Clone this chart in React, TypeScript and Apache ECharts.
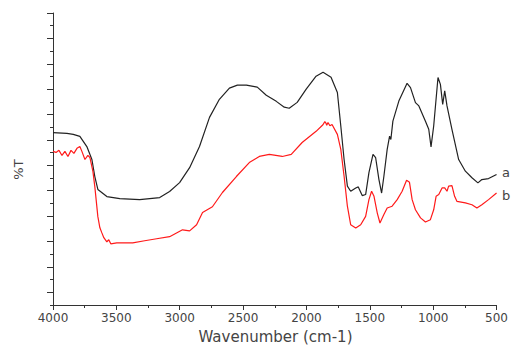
import React, { useEffect, useRef } from "react";
import * as echarts from "echarts";

const xTicks = [4000, 3500, 3000, 2500, 2000, 1500, 1000, 500];
const yMajorTicks = [115, 105, 95, 85, 75, 65, 55, 45, 35, 25, 15, 5];
const yMinorTicks = [110, 100, 90, 80, 70, 60, 50, 40, 30, 20, 10, 0];

const waveA = [4000, 3890, 3840, 3788, 3733, 3693, 3670, 3646, 3575, 3473, 3316, 3158, 3080, 3001, 2922, 2844, 2765, 2687, 2608, 2545, 2474, 2388, 2317, 2238, 2175, 2136, 2073, 2002, 1924, 1869, 1806, 1756, 1729, 1703, 1677, 1651, 1611, 1591, 1560, 1533, 1507, 1475, 1454, 1428, 1407, 1389, 1363, 1344, 1334, 1318, 1271, 1206, 1179, 1140, 1113, 1061, 1035, 1017, 996, 962, 943, 925, 909, 891, 852, 799, 746, 694, 647, 616, 563, 500];
const transA = [67.9, 67.6, 67.2, 66.4, 62.4, 57.3, 50.6, 45.5, 42.7, 41.9, 41.5, 42.3, 44.7, 48.2, 54.1, 62.4, 73.9, 81.0, 85.4, 86.6, 86.6, 85.8, 82.6, 80.2, 77.9, 77.5, 79.8, 85.0, 90.1, 91.7, 89.7, 83.7, 70.5, 57.3, 46.8, 44.8, 46.1, 46.5, 43.1, 43.5, 52.1, 59.3, 58.0, 49.4, 44.1, 50.7, 61.3, 66.5, 65.2, 72.4, 80.3, 87.3, 85.6, 79.7, 78.4, 72.4, 69.2, 62.3, 70.5, 89.6, 86.9, 79.0, 84.3, 78.4, 69.2, 57.3, 52.7, 50.1, 48.1, 49.4, 49.8, 51.4];

const waveB = [4000, 3976, 3953, 3929, 3906, 3882, 3858, 3835, 3811, 3788, 3772, 3748, 3725, 3709, 3685, 3670, 3646, 3630, 3615, 3599, 3575, 3560, 3544, 3497, 3434, 3371, 3277, 3182, 3080, 2978, 2922, 2867, 2820, 2742, 2663, 2553, 2451, 2372, 2293, 2191, 2120, 2034, 1924, 1870, 1855, 1845, 1840, 1830, 1815, 1798, 1756, 1729, 1703, 1677, 1651, 1611, 1572, 1533, 1507, 1486, 1467, 1441, 1420, 1389, 1363, 1324, 1284, 1245, 1210, 1187, 1166, 1140, 1100, 1061, 1022, 996, 977, 956, 930, 909, 891, 878, 852, 831, 812, 746, 694, 655, 616, 563, 500];
const transB = [60.5, 60.1, 60.9, 58.9, 60.5, 58.5, 60.9, 59.7, 61.7, 62.4, 60.5, 57.3, 58.9, 58.1, 52.6, 46.6, 34.8, 30.4, 28.5, 26.5, 24.9, 25.7, 24.1, 24.5, 24.5, 24.5, 25.3, 26.1, 26.9, 29.6, 29.2, 31.6, 36.4, 38.7, 44.3, 50.6, 56.1, 58.5, 59.3, 58.5, 59.3, 64.0, 68.4, 71.0, 72.2, 71.5, 70.8, 71.9, 70.6, 71.1, 67.2, 61.3, 50.7, 38.9, 31.6, 30.3, 31.6, 34.9, 41.5, 44.8, 42.8, 36.2, 32.3, 35.6, 38.2, 38.9, 41.5, 44.8, 49.1, 48.3, 41.5, 37.5, 34.3, 32.7, 33.6, 37.5, 42.8, 43.5, 46.1, 46.1, 44.8, 46.8, 47.0, 42.8, 40.8, 40.2, 39.5, 38.2, 39.5, 41.5, 44.1];

const seriesNames = ["a", "b"];
const xName = "Wavenumber (cm-1)";
const yName = "%T";

export default function App() {
  const ref = useRef<HTMLDivElement>(null);
  useEffect(() => {
    if (!ref.current) return;
    const chart = echarts.init(ref.current, null, { renderer: "svg" });
    const axisColor = "#333";
    const textColor = "#444";
    const font = "DejaVu Sans";
    chart.setOption({
      animation: false,
      backgroundColor: "#fff",
      grid: { left: 53, right: 13, top: 13, bottom: 43 },
      xAxis: {
        type: "value",
        inverse: true,
        min: 500,
        max: 4000,
        interval: 500,
        axisLine: { show: true, lineStyle: { color: axisColor, width: 1 } },
        axisTick: { show: true, length: 5, inside: false, lineStyle: { color: axisColor } },
        minorTick: { show: true, splitNumber: 2, length: 3, lineStyle: { color: axisColor } },
        axisLabel: {
          show: true,
          color: textColor,
          fontFamily: font,
          fontSize: 12,
          margin: 7,
          showMinLabel: true,
          showMaxLabel: true,
          customValues: xTicks,
          formatter: (v: number) => String(v),
        },
        splitLine: { show: false },
        minorSplitLine: { show: false },
      },
      yAxis: [
        {
          type: "value",
          min: 0,
          max: 115,
          position: "left",
          axisLine: { show: true, onZero: false, lineStyle: { color: axisColor, width: 1 } },
          axisTick: { show: true, length: 6, customValues: yMajorTicks, lineStyle: { color: axisColor } },
          axisLabel: { show: false },
          splitLine: { show: false },
        },
        {
          type: "value",
          min: 0,
          max: 115,
          position: "left",
          offset: 0,
          axisLine: { show: false },
          axisTick: { show: true, length: 3, customValues: yMinorTicks, lineStyle: { color: axisColor } },
          axisLabel: { show: false },
          splitLine: { show: false },
        },
      ],
      series: [
        {
          name: seriesNames[0],
          type: "line",
          showSymbol: false,
          data: waveA.map((w, i) => [w, transA[i]]),
          lineStyle: { color: "#222", width: 1.2 },
          itemStyle: { color: "#222" },
        },
        {
          name: seriesNames[1],
          type: "line",
          showSymbol: false,
          data: waveB.map((w, i) => [w, transB[i]]),
          lineStyle: { color: "#ff1a1a", width: 1.2 },
          itemStyle: { color: "#ff1a1a" },
        },
      ],
      graphic: [
        {
          type: "text",
          x: 18.5,
          y: 169.5,
          rotation: Math.PI / 2,
          style: { text: yName, fill: textColor, font: `13px "${font}"`, textAlign: "center", textVerticalAlign: "middle" },
        },
        {
          type: "text",
          x: 275.5,
          y: 337,
          style: { text: xName, fill: textColor, font: `15px "${font}"`, textAlign: "center", textVerticalAlign: "middle" },
        },
        {
          type: "text",
          x: 502,
          y: 172,
          style: { text: seriesNames[0], fill: textColor, font: `13px "${font}"`, textAlign: "left", textVerticalAlign: "middle" },
        },
        {
          type: "text",
          x: 502,
          y: 195,
          style: { text: seriesNames[1], fill: textColor, font: `13px "${font}"`, textAlign: "left", textVerticalAlign: "middle" },
        },
      ],
    });
    return () => chart.dispose();
  }, []);
  return <div ref={ref} style={{ position: "fixed", left: 0, top: 0, width: 511, height: 348 }} />;
}
